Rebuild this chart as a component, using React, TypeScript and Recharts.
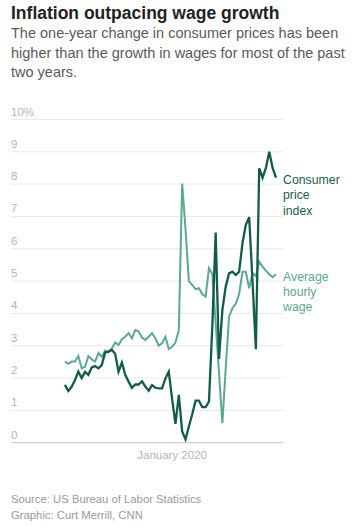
import { LineChart, Line, XAxis, YAxis, CartesianGrid } from "recharts";

// monthly readings (percent change from a year earlier)
const cpi = [
  1.79, 1.6, 1.73, 1.94, 2.2, 2.0, 2.19, 2.1, 2.33, 2.37, 2.3, 2.4, 2.79, 2.82,
  2.87, 2.75, 2.2, 2.48, 2.1, 1.89, 1.7, 1.8, 1.8, 1.9, 1.74, 1.61, 1.78, 1.7,
  1.68, 1.68, 1.99, 2.2, 1.35, 0.58, 1.48, 0.35, 0.1, 0.5, 0.88, 1.3, 1.3, 1.1,
  1.1, 1.27, 3.6, 6.5, 2.59, 4.1, 4.83, 5.24, 5.29, 5.19, 5.29, 6.17, 6.74,
  6.98, 5.0, 2.89, 8.49, 8.2, 8.5, 9.0, 8.5, 8.2,
];

const wages = [
  2.51, 2.44, 2.51, 2.51, 2.68, 2.3, 2.35, 2.68, 2.58, 2.51, 2.77, 2.66, 2.85,
  2.8, 2.92, 3.1, 3.02, 3.2, 3.28, 3.39, 3.23, 3.49, 3.44, 3.25, 3.18, 3.28,
  3.39, 3.23, 3.0, 3.08, 3.28, 2.9, 2.97, 3.1, 3.49, 8.02, 6.6, 5.0, 4.88, 4.75,
  4.78, 4.6, 4.52, 5.4, 5.22, 3.7, 2.15, 0.6, 2.3, 3.9, 4.16, 4.3, 4.6, 5.29,
  5.29, 4.78, 5.24, 5.16, 5.6, 5.45, 5.32, 5.21, 5.12, 5.21,
];

const yTicks = [0, 1, 2, 3, 4, 5, 6, 7, 8, 9, 10];
const xTickIndex = 32;
const xTickLabel = "January 2020";

const data = cpi.map((v, i) => ({ i, cpi: v, wage: wages[i] }));

const FONT = "'Liberation Sans', Arial, sans-serif";
const DARK = "#125c48";
const LIGHT = "#5ba991";
const LEFT = 11;

function renderYTick(props: any) {
  const { y, payload } = props;
  const v = payload.value;
  return (
    <text
      key={v}
      x={LEFT}
      y={y - 4}
      fill="#b5b5b5"
      fontSize={11.5}
      fontFamily={FONT}
      textAnchor="start"
    >
      {v === 10 ? "10%" : v}
    </text>
  );
}

export default function App() {
  return (
    <div
      style={{
        position: "absolute",
        left: 0,
        top: 0,
        width: 358,
        height: 527,
        background: "#fff",
        fontFamily: FONT,
      }}
    >
      <div
        style={{
          position: "absolute",
          left: 11,
          top: 3,
          fontSize: 17.5,
          fontWeight: 700,
          color: "#222",
          whiteSpace: "nowrap",
        }}
      >
        Inflation outpacing wage growth
      </div>
      <div
        style={{
          position: "absolute",
          left: 11,
          top: 24,
          width: 335,
          fontSize: 14.5,
          lineHeight: "19.5px",
          color: "#5a5a5a",
        }}
      >
        The one-year change in consumer prices has been higher than the growth
        in wages for most of the past two years.
      </div>

      <div style={{ position: "absolute", left: 0, top: 0 }}>
        <LineChart
          width={358}
          height={527}
          data={data}
          margin={{ top: 119.5, right: 75, bottom: 54.3, left: LEFT - 1 }}
        >
          <CartesianGrid vertical={false} stroke="#e9e9e9" />
          <XAxis
            dataKey="i"
            type="number"
            domain={[-16.1, 65.1]}
            ticks={[xTickIndex]}
            tickFormatter={() => xTickLabel}
            height={30}
            axisLine={{ stroke: "#cacaca" }}
            tickLine={false}
            tick={{ fill: "#b5b5b5", fontSize: 11.5, fontFamily: FONT }}
            tickMargin={2}
          />
          <YAxis
            type="number"
            domain={[0, 10]}
            ticks={yTicks}
            width={1}
            axisLine={false}
            tickLine={false}
            tick={renderYTick}
          />
          <Line
            dataKey="wage"
            stroke={LIGHT}
            strokeWidth={2}
            dot={false}
            isAnimationActive={false}
          />
          <Line
            dataKey="cpi"
            stroke={DARK}
            strokeWidth={2.3}
            dot={false}
            isAnimationActive={false}
          />
        </LineChart>
      </div>

      <div
        style={{
          position: "absolute",
          left: 283,
          top: 173,
          fontSize: 12.3,
          lineHeight: "15.3px",
          color: "#1d5e4c",
        }}
      >
        Consumer
        <br />
        price
        <br />
        index
      </div>
      <div
        style={{
          position: "absolute",
          left: 283,
          top: 270,
          fontSize: 12.3,
          lineHeight: "15px",
          color: LIGHT,
        }}
      >
        Average
        <br />
        hourly
        <br />
        wage
      </div>

      <div
        style={{
          position: "absolute",
          left: 11,
          top: 492,
          fontSize: 11.3,
          lineHeight: "15.5px",
          color: "#9a9a9a",
        }}
      >
        Source: US Bureau of Labor Statistics
        <br />
        Graphic: Curt Merrill, CNN
      </div>
    </div>
  );
}
